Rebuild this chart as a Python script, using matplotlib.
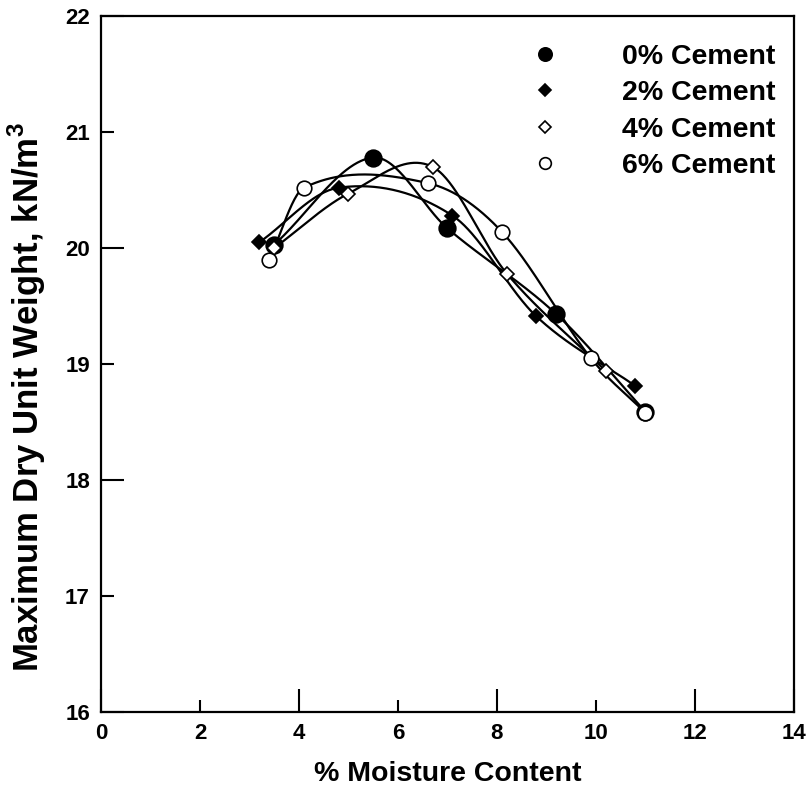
import numpy as np
import matplotlib
matplotlib.use("Agg")
import matplotlib.pyplot as plt

plt.rcParams['font.family'] = ['Liberation Sans', 'DejaVu Sans']
plt.rcParams['font.weight'] = 'bold'
plt.rcParams['mathtext.fontset'] = 'custom'
plt.rcParams['mathtext.bf'] = 'Liberation Sans:bold'
plt.rcParams['mathtext.rm'] = 'Liberation Sans:bold'

# data
labels = ['0% Cement', '2% Cement', '4% Cement', '6% Cement']
x_0 = [3.5, 5.5, 7.0, 9.2, 11.0]
y_0 = [20.03, 20.78, 20.17, 19.43, 18.59]
x_2 = [3.2, 4.8, 7.1, 8.8, 10.8]
y_2 = [20.05, 20.52, 20.28, 19.41, 18.81]
x_4 = [3.5, 5.0, 6.7, 8.2, 10.2]
y_4 = [20.0, 20.47, 20.70, 19.78, 18.94]
x_6 = [3.4, 4.1, 6.6, 8.1, 9.9, 11.0]
y_6 = [19.90, 20.52, 20.56, 20.14, 19.05, 18.58]


def smooth_curve(xs, ys, xx):
    # cubic hermite (catmull-rom style) curve through the points
    x = np.asarray(xs, float)
    y = np.asarray(ys, float)
    m = np.empty_like(y)
    m[1:-1] = (y[2:] - y[:-2]) / (x[2:] - x[:-2])
    m[0] = (y[1] - y[0]) / (x[1] - x[0])
    m[-1] = (y[-1] - y[-2]) / (x[-1] - x[-2])
    k = np.clip(np.searchsorted(x, xx) - 1, 0, len(x) - 2)
    h = x[k + 1] - x[k]
    t = (xx - x[k]) / h
    h00 = 2 * t**3 - 3 * t**2 + 1
    h10 = t**3 - 2 * t**2 + t
    h01 = -2 * t**3 + 3 * t**2
    h11 = t**3 - t**2
    return h00 * y[k] + h10 * h * m[k] + h01 * y[k + 1] + h11 * h * m[k + 1]


series = [
    (x_0, y_0, 'o', 'black', 12),
    (x_2, y_2, 'D', 'black', 7.5),
    (x_4, y_4, 'D', 'white', 7.5),
    (x_6, y_6, 'o', 'white', 10.5),
]

fig = plt.figure(figsize=(8.1, 7.9), dpi=100)
ax = fig.add_axes([0.1247, 0.0987, 0.8553, 0.881])

for (xs, ys, mk, fc, ms), lab in zip(series, labels):
    xx = np.linspace(min(xs), max(xs), 300)
    ax.plot(xx, smooth_curve(xs, ys, xx), color='black', lw=1.6, zorder=2)
    ax.plot(xs, ys, linestyle='none', marker=mk, ms=ms, mfc=fc, mec='black',
            mew=1.2, zorder=3, label=lab)

ax.set_xlim(0, 14)
ax.set_ylim(16, 22)

ax.set_xticks([0, 4, 8, 12, 14])
ax.set_xticklabels(['0', '4', '8', '12', '14'])
ax.set_xticks([2, 6, 10], minor=True)
ax.set_xticklabels(['2', '6', '10'], minor=True)
ax.set_yticks([16, 18, 20, 22])
ax.set_yticklabels(['16', '18', '20', '22'])
ax.set_yticks([17, 19, 21], minor=True)
ax.set_yticklabels(['17', '19', '21'], minor=True)

ax.tick_params(which='major', direction='in', length=16.5, width=1.5,
               labelsize=16, pad=8)
ax.tick_params(which='minor', direction='in', length=9, width=1.5,
               labelsize=16, pad=8)
for t in ax.get_xticklabels(which='both') + ax.get_yticklabels(which='both'):
    t.set_fontweight('bold')

for sp in ax.spines.values():
    sp.set_linewidth(1.6)

ax.set_xlabel('% Moisture Content', fontsize=20.5, fontweight='bold', labelpad=12)
ax.set_ylabel(r'Maximum Dry Unit Weight, kN/m$^{\mathbf{3}}$', fontsize=25,
              fontweight='bold')
ax.yaxis.set_label_coords(-0.076, 0.453)

leg = ax.legend(loc='upper right', bbox_to_anchor=(1.01, 0.997), frameon=False,
                fontsize=20.5, markerscale=0.8, handletextpad=2.2,
                labelspacing=0.37, handlelength=1.0)
for t in leg.get_texts():
    t.set_fontweight('bold')

fig.savefig('out.png', dpi=100)
